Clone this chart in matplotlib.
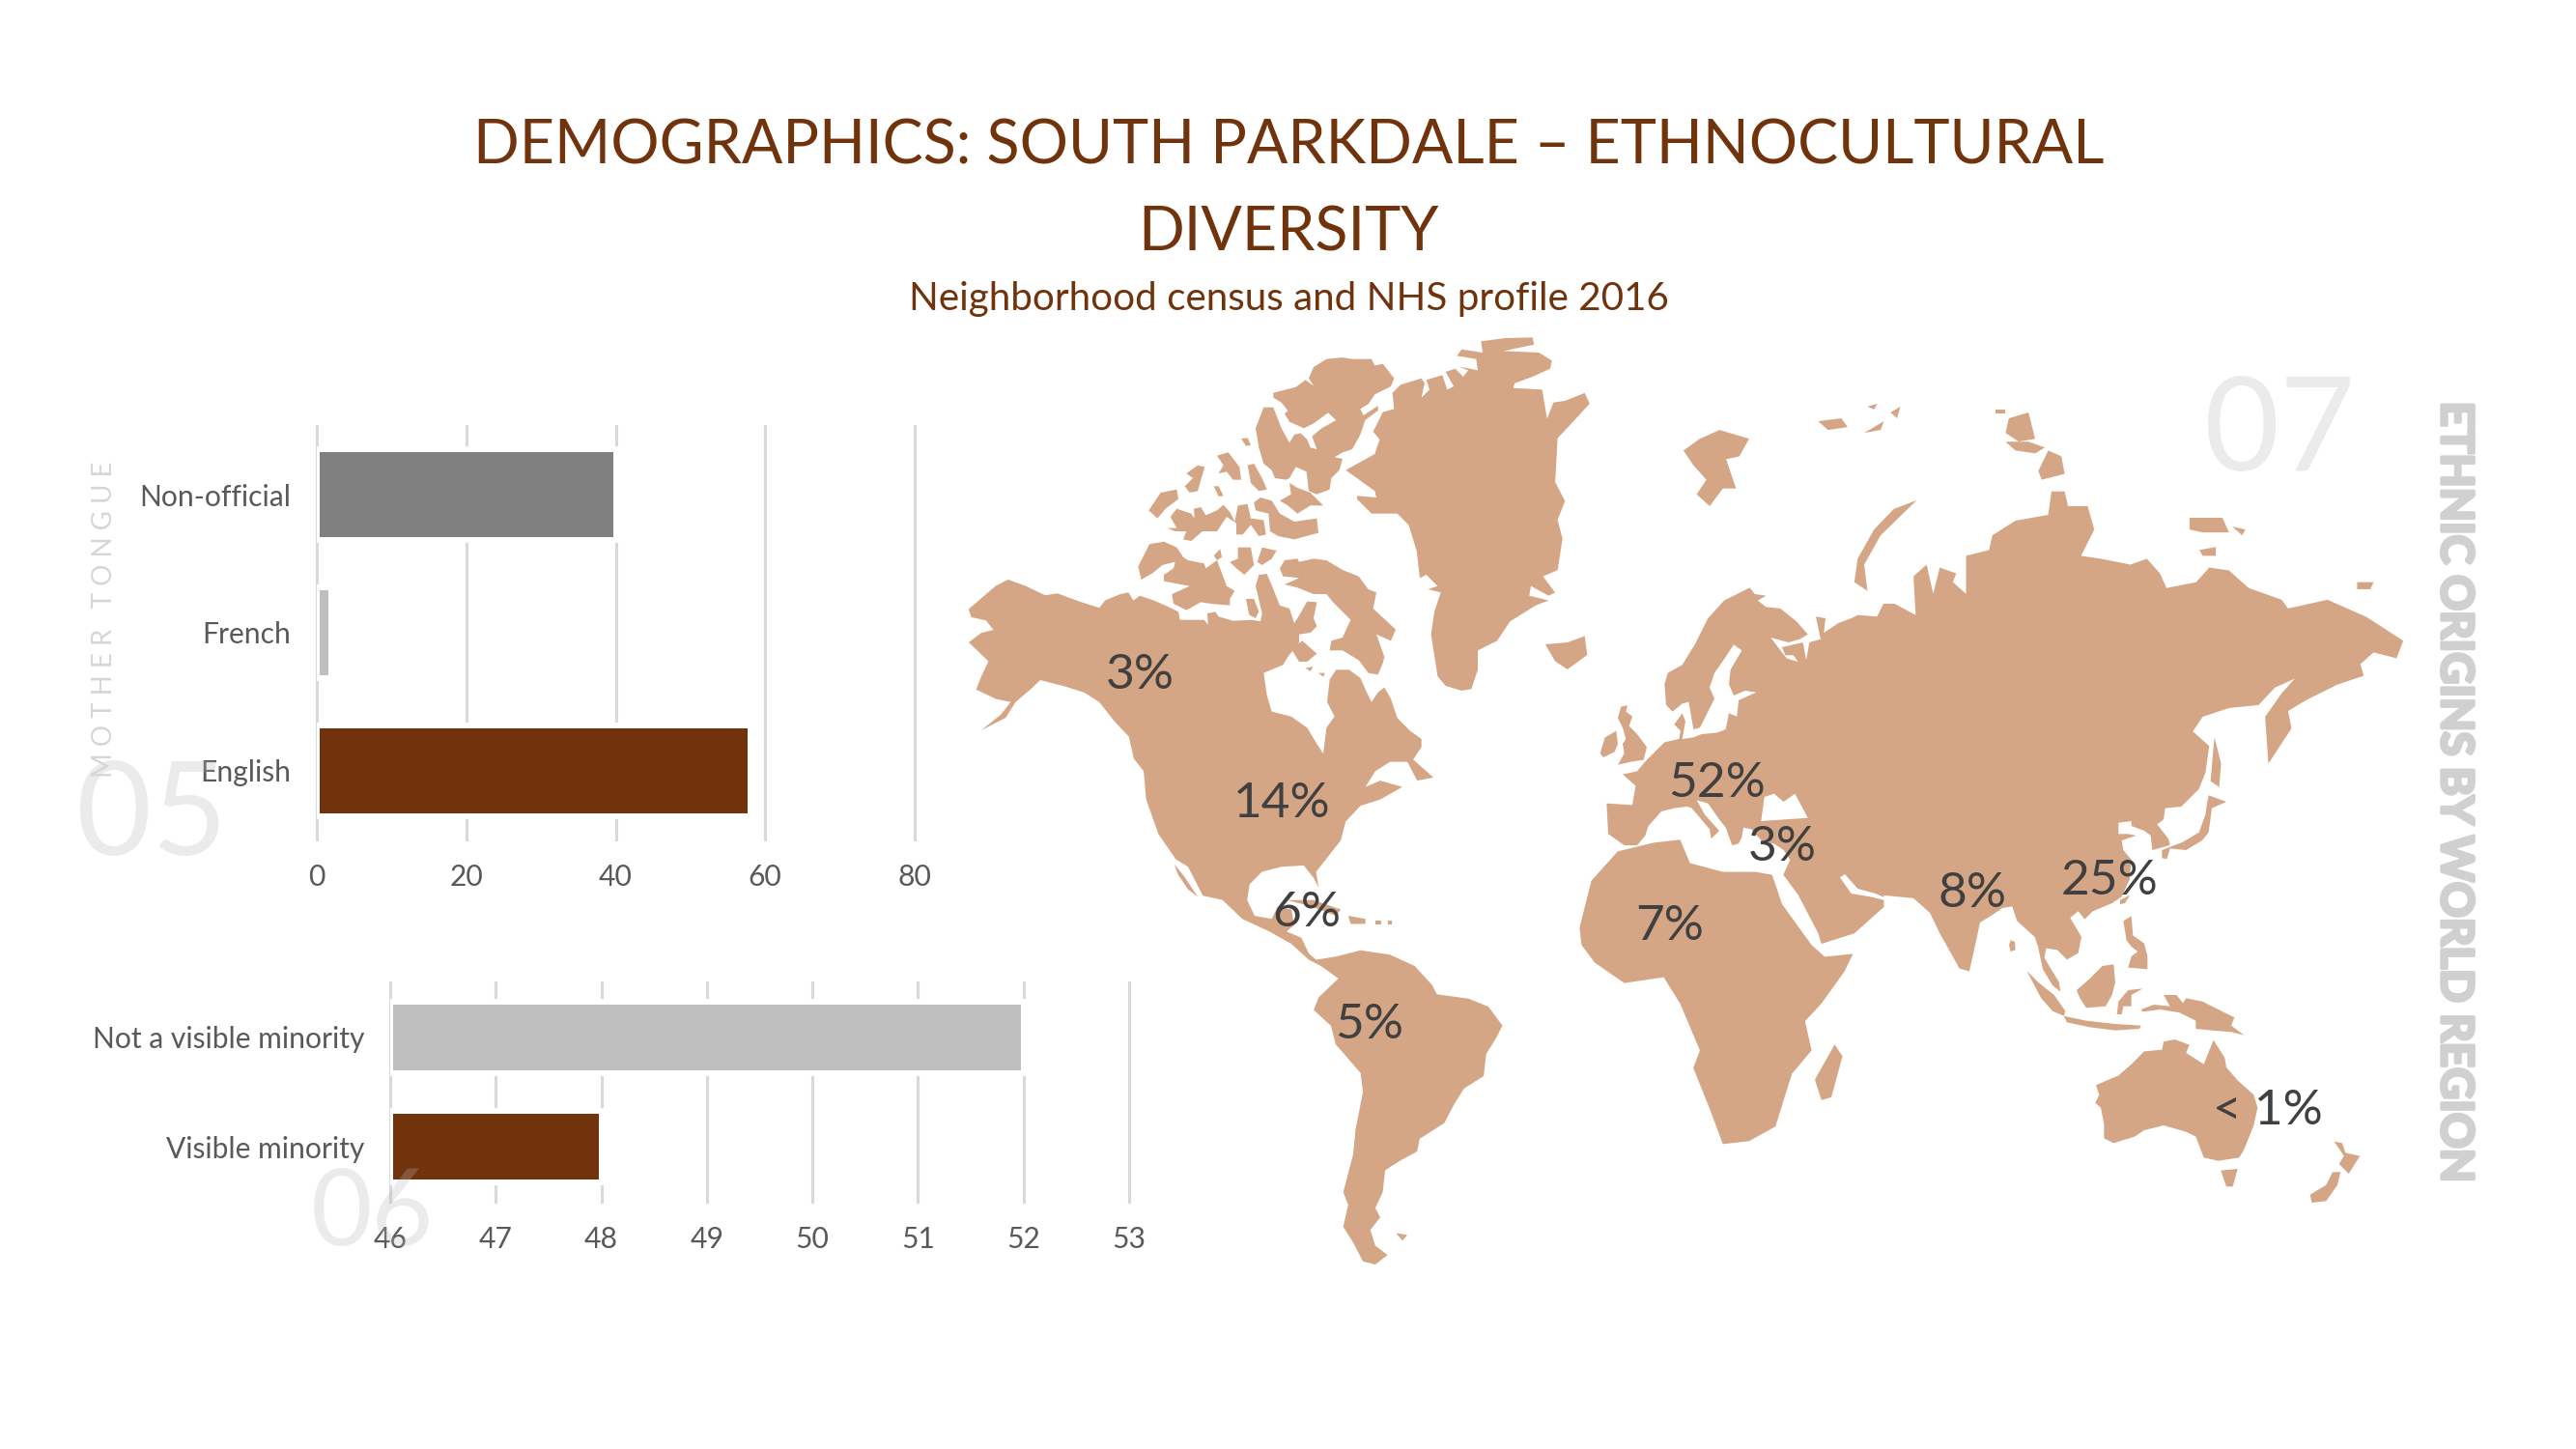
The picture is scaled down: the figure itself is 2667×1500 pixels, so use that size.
"""South Parkdale ethnocultural diversity slide: two bar charts and a world map."""

import matplotlib

matplotlib.use("Agg")  # headless
import matplotlib.patheffects as pe  # noqa: E402
import matplotlib.pyplot as plt  # noqa: E402

W, H = 2667, 1500
BROWN = "#70330C"
TAN = "#D5A685"
GRID = "#D9D9D9"
TEXT = "#595959"
GHOST = "#B8B8B8"

plt.rcParams["font.family"] = ["Lato", "DejaVu Sans"]

# ---------- chart data ------------------------------------------------------

tongue_labels = ["English", "French", "Non-official"]
tongue_values = [58, 2, 40]
tongue_colors = [BROWN, "#BFBFBF", "#808080"]
tongue_ticks = [0, 20, 40, 60, 80]

minority_labels = ["Visible minority", "Not a visible minority"]
minority_values = [48, 52]
minority_colors = [BROWN, "#BFBFBF"]
minority_ticks = [46, 47, 48, 49, 50, 51, 52, 53]

region_labels = ["3%", "14%", "6%", "5%", "52%", "3%", "7%", "8%", "25%", "< 1%"]
region_x = [1180, 1327, 1353, 1418, 1778, 1845, 1729, 2042, 2184, 2348]
region_y = [699, 832, 945, 1061, 811, 877, 959, 925, 912, 1150]

# ---------- map outlines ----------------------------------------------------
# each trace was read in its own grid: (origin x, origin y, scale x, scale y)
WEST = (980, 330, 0.5102, 0.6505)
EAST = (1600, 330, 0.6805, 0.6059)
ARCTIC = (1160, 340, 1 / 3, 1 / 3)
EUROPE = (1640, 580, 1 / 3, 1 / 3)
ASIA = (2050, 800, 1 / 3, 1 / 3)

alaska_coast = [
    (45, 462), (70, 445), (100, 425), (125, 415), (160, 425), (200, 440), (225, 437), (270, 450),
    (310, 460), (322, 448),
]
canada_north_coast = [
    (0, 825), (25, 820), (40, 845), (60, 830), (105, 845), (150, 865), (180, 880), (185, 905),
    (260, 905), (272, 920), (270, 885), (295, 880), (305, 895), (350, 908), (410, 905), (435, 910),
    (440, 885), (420, 800), (430, 765), (455, 762), (475, 810), (495, 860), (525, 870), (540, 915),
    (550, 900), (580, 848), (610, 850), (600, 900), (610, 925), (590, 945), (555, 950), (555, 975),
    (520, 1020), (505, 1045), (445, 1070), (455, 1140), (470, 1190), (530, 1205), (580, 1240),
    (610, 1290), (630, 1320), (640, 1240), (665, 1205), (642, 1160), (650, 1090), (670, 1060),
    (710, 1060), (745, 1085), (765, 1130), (780, 1160), (800, 1130), (820, 1115), (840, 1150),
    (860, 1210), (900, 1250), (935, 1275), (935, 1300), (905, 1345),
]
america_south_coast = [
    (945, 700), (988, 730), (955, 735), (935, 705), (900, 705), (870, 720), (850, 745), (880, 735),
    (925, 745), (880, 765), (840, 775), (810, 800), (800, 830), (770, 860), (750, 880), (755, 905),
    (745, 890), (725, 870), (680, 872), (640, 880), (615, 900), (610, 925), (625, 950), (660, 955),
    (672, 935), (700, 940), (705, 965), (690, 975), (720, 985), (735, 1010), (750, 1020), (790, 1015),
    (840, 1005), (900, 1012), (950, 1030), (985, 1060), (995, 1075), (1060, 1082), (1100, 1095),
    (1128, 1125), (1115, 1145), (1095, 1170), (1090, 1205), (1050, 1225), (1030, 1250), (1010, 1280),
    (960, 1305), (955, 1325), (920, 1340), (890, 1355), (885, 1390), (870, 1415), (880, 1430),
    (860, 1450), (870, 1475), (895, 1490), (870, 1505), (845, 1500), (825, 1470), (805, 1445),
    (815, 1410), (805, 1390), (825, 1330), (830, 1290), (845, 1230), (840, 1200), (790, 1155),
    (780, 1125), (745, 1100), (755, 1080), (795, 1050), (760, 1030), (735, 1020), (700, 995),
    (655, 975), (600, 955), (560, 925), (520, 918), (490, 872), (465, 860), (430, 820), (405, 765),
    (400, 720), (380, 700), (370, 665), (340, 640), (310, 610), (280, 595), (240, 585), (190, 575),
    (170, 590), (140, 610), (120, 635), (70, 655), (110, 630), (130, 610), (100, 605), (60, 590),
    (70, 570), (85, 545), (45, 515), (70, 500), (95, 495), (80, 480), (50, 475),
]

greenland_north = [
    (700, 440), (790, 390), (805, 345), (785, 320), (815, 260), (850, 250), (845, 200), (870, 175),
    (935, 155), (945, 170), (935, 215), (960, 190), (950, 160), (1000, 145), (1015, 190), (1035, 180),
    (1010, 135), (1040, 125), (1065, 150), (1080, 130), (1050, 118), (1110, 130), (1105, 95),
    (1045, 85), (1060, 65), (1125, 75), (1120, 40), (1195, 30), (1280, 28), (1285, 50), (1190, 70),
    (1300, 75), (1340, 100), (1335, 125), (1280, 150), (1225, 170), (1220, 185), (1310, 190),
    (1325, 280), (1345, 230), (1380, 225),
]
greenland_east = [
    (1295, 118), (1305, 135), (1270, 165), (1240, 190), (1235, 260), (1255, 290), (1240, 320),
    (1250, 350), (1240, 400), (1210, 410),
]
greenland_south = [
    (1320, 780), (1350, 820), (1330, 830), (1275, 800), (1270, 830), (1330, 845), (1290, 860),
    (1210, 910), (1170, 970), (1110, 1000), (1110, 1060), (1090, 1120), (1060, 1125), (1010, 1110),
    (985, 1080), (965, 950), (975, 880), (995, 820), (955, 810), (985, 800), (950, 765), (930, 775),
    (920, 690), (895, 610), (860, 575), (780, 575), (735, 530), (735, 520), (795, 525), (790, 505),
]

arctic_islands = [
    [(475, 200), (545, 182), (575, 160), (600, 178), (585, 155), (600, 120), (640, 95), (690, 90),
     (720, 95), (780, 95), (790, 115), (815, 110), (850, 155), (840, 180), (790, 205), (770, 235),
     (745, 250), (755, 270), (800, 240), (800, 255), (760, 285), (745, 330), (720, 375), (690, 385),
     (665, 400), (690, 405), (680, 440), (655, 465), (650, 500), (610, 515), (585, 505), (578, 445),
     (545, 430), (525, 465), (515, 470), (480, 465), (470, 440), (445, 420), (430, 370), (420, 310),
     (445, 245), (475, 245), (500, 310), (525, 355), (540, 330), (560, 325), (580, 345), (590, 370),
     (610, 375), (595, 335), (625, 310), (670, 285), (645, 262), (600, 295), (570, 310), (525, 290),
     (510, 265), (520, 255), (500, 230), (475, 215)],
    [(375, 342), (395, 340), (405, 362), (390, 365)],
    [(300, 395), (335, 385), (370, 430), (375, 470), (350, 470), (330, 445), (305, 450), (320, 425)],
    [(395, 425), (415, 420), (440, 465), (455, 500), (430, 505), (405, 480), (400, 450)],
    [(205, 450), (240, 425), (262, 430), (250, 470), (240, 505), (215, 510), (200, 490), (225, 465)],
    [(290, 490), (305, 490), (320, 520), (305, 522)],
    [(88, 565), (125, 510), (175, 500), (180, 530), (140, 560), (115, 590)],
    [(145, 620), (175, 620), (155, 585), (175, 560), (220, 575), (230, 590), (228, 560), (250, 555),
     (265, 580), (300, 565), (320, 548), (340, 570), (355, 600), (365, 550), (395, 545), (405, 590),
     (445, 595), (452, 640), (430, 645), (405, 610), (380, 640), (360, 640), (360, 605), (330, 585),
     (300, 630), (255, 630), (220, 660), (195, 655), (205, 630), (170, 630)],
    [(415, 540), (435, 525), (470, 535), (495, 575), (540, 600), (610, 590), (615, 635), (540, 655),
     (490, 645), (465, 630), (460, 575), (420, 565)],
    [(495, 535), (530, 515), (525, 480), (550, 495), (590, 510), (630, 550), (590, 550), (550, 575),
     (520, 550)],
    [(55, 740), (90, 670), (135, 662), (175, 680), (195, 710), (210, 720), (260, 730), (265, 745),
     (300, 720), (330, 800), (355, 815), (340, 840), (340, 860), (280, 855), (250, 850), (205, 875),
     (165, 855), (160, 825), (215, 800), (135, 785), (135, 765), (165, 745), (170, 725), (130, 735),
     (100, 760), (65, 780)],
    [(290, 705), (310, 685), (315, 710), (300, 720)],
    [(340, 725), (365, 715), (365, 680), (405, 680), (415, 735), (385, 765), (360, 745)],
    [(425, 725), (440, 680), (485, 690), (470, 715), (440, 735)],
    [(495, 745), (510, 720), (550, 715), (555, 725), (600, 715), (640, 720), (690, 750), (740, 770),
     (770, 810), (795, 820), (785, 870), (855, 935), (840, 970), (795, 950), (820, 1020), (815, 1040),
     (800, 1075), (770, 1070), (740, 1030), (690, 1000), (650, 1000), (655, 970), (690, 960),
     (715, 905), (670, 860), (660, 850), (640, 825), (600, 825), (550, 805), (510, 795), (555, 775),
     (505, 770)],
    [(390, 840), (415, 840), (430, 880), (420, 900), (400, 890)],
    [(530, 995), (565, 970), (610, 1010), (580, 1035), (555, 1035)],
    [(575, 1055), (598, 1050), (590, 1065)],
    [(615, 1070), (635, 1070), (630, 1082)],
]
atlantic_islands = [
    [(1215, 518), (1260, 515), (1295, 505), (1300, 535), (1260, 558), (1235, 545)],
    [(462, 868), (480, 885), (510, 920), (490, 908), (470, 885)],
    [(690, 925), (745, 925), (800, 940), (790, 950), (740, 935)],
    [(815, 950), (850, 955), (850, 963), (820, 963)],
    [(870, 958), (882, 958), (882, 964), (870, 964)],
    [(895, 958), (903, 958), (903, 964), (895, 964)],
    [(912, 1455), (935, 1458), (925, 1467)],
]

europe_north_coast = [
    (70, 755), (150, 760), (160, 700), (120, 665), (165, 655), (190, 625), (250, 565), (295, 555),
    (300, 530), (280, 510), (305, 475), (315, 500), (305, 555), (340, 550), (365, 540), (415, 535),
    (440, 525), (450, 475), (475, 485), (480, 435), (535, 410), (500, 405), (465, 420), (450, 385),
    (455, 340), (490, 280), (465, 262), (440, 300), (405, 350), (390, 395), (405, 430), (385, 470),
    (360, 520), (340, 525), (325, 440), (305, 445), (275, 470), (255, 450), (250, 385), (260, 350),
    (305, 325), (345, 260), (385, 180), (435, 125), (475, 105), (515, 85), (530, 105), (565, 110),
    (540, 125), (565, 145), (610, 150), (660, 190), (695, 230), (670, 245), (635, 255), (580, 240),
    (610, 280), (630, 305), (665, 315), (650, 295), (625, 295), (615, 270), (680, 255), (690, 310),
    (700, 255), (735, 245), (720, 175), (750, 180), (745, 225), (790, 195), (830, 180), (850, 170),
    (910, 175), (930, 135), (965, 135), (1030, 170),
]
siberia_coast = [
    (560, 440), (580, 420), (590, 470), (600, 425), (625, 435), (620, 450), (640, 470), (640, 405),
    (675, 395), (680, 370), (715, 345), (765, 335), (770, 295), (790, 295), (795, 320), (825, 320),
    (835, 360), (815, 405), (845, 410), (890, 420), (915, 410), (935, 435), (945, 460), (990, 450),
    (1010, 425), (1040, 430), (1070, 460), (1120, 480), (1130, 495), (1190, 480), (1250, 510),
    (1305, 550), (1295, 580), (1260, 570), (1240, 590), (1245, 610), (1205, 625), (1160, 650),
    (1130, 670), (1135, 700), (1100, 760), (1095, 680), (1120, 640), (1140, 615), (1110, 630),
    (1085, 660), (1040, 665), (1000, 680), (985, 705), (1010, 730),
]
east_asia_coast = [
    (700, 0), (680, 50), (625, 105), (575, 110), (570, 145), (550, 160), (585, 205), (590, 225),
    (535, 240), (530, 195), (510, 180), (470, 165), (470, 150), (430, 155), (430, 190), (460, 190),
    (485, 195), (440, 210), (445, 240), (470, 270), (465, 330), (440, 385), (410, 405), (350, 430),
    (325, 455), (305, 430), (280, 450), (315, 510), (305, 560), (270, 580), (240, 550), (205, 545),
    (200, 575), (245, 650), (250, 680), (225, 660), (195, 610), (180, 540), (170, 510), (115, 460),
    (100, 415), (70, 420), (40, 440), (0, 465),
]
south_asia_coast = [
    (650, 1090), (645, 1115), (630, 1110), (600, 1050), (585, 1015), (560, 990), (515, 985),
    (515, 1005), (470, 1050), (420, 1068), (415, 1050), (385, 985), (362, 950),
]
europe_south_coast = [
    (640, 930), (620, 900), (590, 880), (555, 875), (520, 835), (495, 830), (490, 860), (480, 880),
    (460, 885), (440, 830), (420, 805), (385, 755), (350, 745), (375, 790), (420, 840), (395, 865),
    (390, 835), (335, 770), (320, 765), (280, 770), (240, 780), (200, 825), (190, 855), (165, 885),
    (125, 885), (75, 850),
]
black_sea = [(550, 810), (560, 735), (590, 725), (620, 750), (655, 725), (695, 800)]
persian_gulf = [
    (795, 985), (810, 975), (850, 1020), (905, 1035), (965, 1060), (1040, 1080), (950, 1060),
    (890, 1045), (830, 1035),
]
europe_islands = [
    [(105, 490), (115, 455), (135, 450), (130, 470), (150, 485), (140, 515), (165, 540), (195, 580),
     (185, 620), (150, 625), (105, 635), (125, 600), (120, 570), (130, 555), (120, 520)],
    [(50, 600), (65, 550), (100, 530), (105, 570), (95, 595), (60, 612)],
]

africa = [
    (52, 1040), (70, 960), (110, 910), (165, 895), (205, 890), (220, 930), (270, 945), (320, 945),
    (345, 950), (360, 1000), (405, 1070), (425, 1090), (468, 1085), (455, 1115), (420, 1170),
    (395, 1200), (405, 1250), (375, 1290), (350, 1380), (310, 1405), (270, 1410), (250, 1350),
    (225, 1280), (235, 1250), (205, 1170), (180, 1125), (120, 1135), (75, 1100), (55, 1070),
]
arctic_ocean_islands = [
    [(440, 1240), (452, 1260), (435, 1330), (420, 1335), (410, 1300)],
    [(210, 225), (235, 205), (265, 190), (310, 205), (295, 235), (275, 240), (290, 290), (270, 290),
     (250, 320), (230, 300), (245, 275), (225, 250)],
    [(415, 175), (450, 170), (460, 185), (430, 190)],
    [(490, 150), (505, 145), (500, 155)],
    [(485, 195), (515, 175), (510, 190)],
    [(525, 160), (540, 150), (535, 170)],
    [(565, 310), (530, 325), (500, 360), (475, 410), (470, 450), (490, 465), (485, 420), (510, 370)],
    [(685, 155), (700, 155), (700, 162), (685, 162)],
    [(705, 170), (735, 160), (745, 205), (720, 210), (700, 195)],
    [(700, 210), (735, 210), (760, 220), (745, 230), (715, 225)],
    [(765, 225), (785, 235), (790, 265), (755, 275), (750, 260)],
    [(980, 340), (1030, 340), (1040, 365), (1000, 365), (980, 360)],
    [(1045, 355), (1065, 360), (1060, 370)],
    [(995, 395), (1020, 390), (1020, 405), (1000, 405)],
    [(1235, 450), (1260, 450), (1255, 462), (1235, 462)],
    [(1018, 715), (1028, 760), (1025, 800), (1012, 790), (1015, 750)],
]
pacific_islands = [
    [(705, 95), (710, 70), (765, 90), (720, 110), (710, 185), (690, 210), (640, 240), (590, 235),
     (580, 268), (565, 265), (565, 240), (630, 215), (680, 185), (700, 130)],
    [(435, 395), (465, 380), (450, 405), (435, 408)],
    [(445, 460), (470, 445), (475, 505), (510, 530), (520, 570), (520, 610), (460, 605), (470, 570),
     (490, 555), (470, 540), (455, 520)],
    [(95, 520), (108, 525), (110, 550), (95, 555), (90, 535)],
    [(145, 615), (180, 650), (230, 690), (265, 740), (260, 755), (225, 740), (190, 700)],
    [(260, 755), (330, 770), (420, 780), (500, 785), (495, 795), (420, 800), (340, 790), (270, 775)],
    [(300, 675), (340, 640), (380, 600), (415, 595), (420, 650), (410, 690), (390, 725), (330, 730),
     (310, 700)],
    [(425, 750), (430, 710), (460, 675), (505, 670), (470, 690), (470, 725), (445, 725), (440, 750)],
    [(500, 735), (540, 720), (590, 725), (570, 690), (610, 690), (630, 715), (640, 700), (690, 710),
     (750, 740), (790, 760), (780, 785), (820, 815), (780, 805), (720, 800), (670, 795), (670, 770),
     (620, 745), (560, 735), (505, 742)],
    [(360, 970), (430, 940), (470, 905), (510, 865), (565, 860), (570, 835), (605, 828), (650, 845),
     (640, 870), (695, 905), (725, 830), (760, 885), (765, 915), (800, 955), (850, 1000), (862, 1040),
     (850, 1095), (820, 1170), (805, 1195), (740, 1205), (695, 1195), (670, 1130), (640, 1115),
     (570, 1095), (510, 1110), (480, 1130), (415, 1150), (385, 1135), (385, 1090), (375, 1040),
     (358, 1025), (370, 1000)],
    [(748, 1235), (800, 1230), (785, 1285), (765, 1285)],
    [(1100, 1145), (1125, 1150), (1135, 1180), (1180, 1190), (1145, 1245), (1115, 1215), (1130, 1190)],
    [(1095, 1240), (1120, 1240), (1110, 1280), (1075, 1330), (1030, 1335), (1025, 1310), (1075, 1280)],
]


def rect(left, top, right, bottom):
    return [left / W, 1 - bottom / H, (right - left) / W, (bottom - top) / H]


def trace(points, grid):
    ox, oy, sx, sy = grid
    return [(ox + x * sx, oy + y * sy) for x, y in points]


def bar_chart(fig, box, labels, values, colors, ticks, xlim, bar_h):
    ax = fig.add_axes(rect(*box), facecolor="none")
    widths = [v - xlim[0] for v in values]
    ax.barh(labels, widths, left=xlim[0], height=bar_h, color=colors, edgecolor="white", linewidth=4.3, zorder=3)
    ax.set_xlim(*xlim)
    ax.set_ylim(-0.5, len(labels) - 0.5)
    ax.set_xticks(ticks)
    ax.grid(axis="x", color=GRID, linewidth=2.2, zorder=1)
    ax.set_axisbelow(True)
    for spine in ax.spines.values():
        spine.set_visible(False)
    ax.tick_params(axis="both", length=0, labelcolor=TEXT, labelsize=21.6)
    ax.tick_params(axis="x", pad=18)
    ax.tick_params(axis="y", pad=19)
    for gridline in ax.get_xgridlines():
        gridline.set_clip_on(False)
    return ax


def draw_map(ax):
    america = (trace(alaska_coast, WEST) + trace(canada_north_coast, ARCTIC)
               + trace(america_south_coast, WEST))
    greenland = (trace(greenland_north, ARCTIC) + trace(greenland_east, WEST)
                 + trace(greenland_south, ARCTIC))
    eurasia = (trace(europe_north_coast, EUROPE) + trace(siberia_coast, EAST) + trace(east_asia_coast, ASIA)
               + trace(south_asia_coast, EAST) + trace(europe_south_coast, EUROPE))
    land = [america, greenland, eurasia, trace(africa, EAST)]
    land += [trace(p, ARCTIC) for p in arctic_islands]
    land += [trace(p, WEST) for p in atlantic_islands]
    land += [trace(p, EUROPE) for p in europe_islands]
    land += [trace(p, EAST) for p in arctic_ocean_islands]
    land += [trace(p, ASIA) for p in pacific_islands]
    for shape in land:
        ax.fill(*zip(*shape), color=TAN, linewidth=0, zorder=1)
    for shape in (black_sea, persian_gulf):
        ax.fill(*zip(*trace(shape, EUROPE)), color="white", linewidth=0, zorder=2)


fig = plt.figure(figsize=(W / 100, H / 100), dpi=100, facecolor="white")

# map and every free text sit in one full-page axes using picture pixels
page = fig.add_axes([0, 0, 1, 1], facecolor="none")
page.set_xlim(0, W)
page.set_ylim(H, 0)
page.axis("off")
draw_map(page)

for label, x, y in zip(region_labels, region_x, region_y):
    page.text(x, y, label, color="#404040", fontsize=37, ha="center", va="center", zorder=5)

page.text(1334, 152, "DEMOGRAPHICS: SOUTH PARKDALE – ETHNOCULTURAL", color=BROWN, fontsize=45.2,
          ha="center", va="center")
page.text(1334, 241, "DIVERSITY", color=BROWN, fontsize=45.2, ha="center", va="center")
page.text(1334, 309, "Neighborhood census and NHS profile 2016", color=BROWN, fontsize=29.1,
          ha="center", va="center")

bar_chart(fig, (328, 441, 947, 869), tongue_labels, tongue_values, tongue_colors, tongue_ticks, (0, 80), 0.66)
bar_chart(fig, (404, 1017, 1169, 1244), minority_labels, minority_values, minority_colors, minority_ticks,
          (46, 53), 0.65)

# ghost section numbers and side captions, above the bars
overlay = fig.add_axes([0, 0, 1, 1], facecolor="none")
overlay.set_xlim(0, W)
overlay.set_ylim(H, 0)
overlay.axis("off")
overlay.text(157, 846, "05", color=GHOST, alpha=0.28, fontsize=97, ha="center", va="center")
overlay.text(385, 1258, "06", color=GHOST, alpha=0.28, fontsize=79, ha="center", va="center")
overlay.text(2360, 448, "07", color=GHOST, alpha=0.28, fontsize=97, ha="center", va="center")
overlay.text(108, 641, "M O T H E R   T O N G U E", color="#D6D6D6", fontsize=20, rotation=90,
             ha="center", va="center")
side = overlay.text(2541, 821, "ETHNIC ORIGINS BY WORLD REGION", color="#D0D0D0", fontsize=33, fontweight="bold",
                    rotation=270, ha="center", va="center")
side.set_path_effects([pe.withStroke(linewidth=2.5, foreground="#D0D0D0")])

fig.savefig("out.png", dpi=100)
